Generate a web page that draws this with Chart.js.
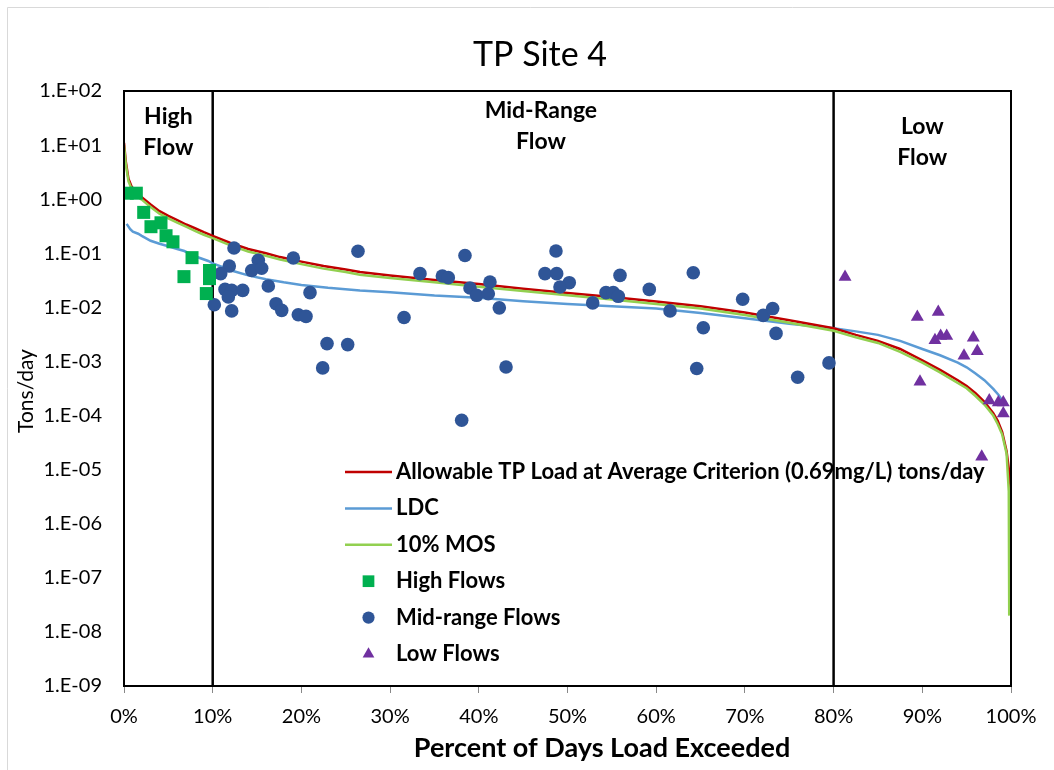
<!DOCTYPE html>
<html><head><meta charset="utf-8">
<script src="https://cdn.jsdelivr.net/npm/chart.js@4.4.1/dist/chart.umd.min.js"></script>
<style>html,body{margin:0;padding:0;background:#fff;}</style>
</head><body>
<canvas id="c" width="1054" height="770"></canvas>
<script>
// ---- data ----
const chartTitle = 'TP Site 4';
const xAxisTitle = 'Percent of Days Load Exceeded';
const yAxisTitle = 'Tons/day';
const yTickValues = [1e2,1e1,1e0,1e-1,1e-2,1e-3,1e-4,1e-5,1e-6,1e-7,1e-8,1e-9];
const yTickLabels = ['1.E+02','1.E+01','1.E+00','1.E-01','1.E-02','1.E-03','1.E-04','1.E-05','1.E-06','1.E-07','1.E-08','1.E-09'];
const xTickValues = [0,10,20,30,40,50,60,70,80,90,100];
const xTickLabels = ['0%','10%','20%','30%','40%','50%','60%','70%','80%','90%','100%'];

const allowX = [0,0.2,0.5,1,1.5,2,3,4,5,6,7,8,9,10,12,14,16,17.6,20,22.5,25,26.6,30,35,40,45,50,55,60,65,70,75,80,82.5,85,87.5,90,92,94,95,96,97,98,98.5,99,99.5,99.8,100];
const allowY = [11,5.0,2.4,1.5,1.25,1.09,0.8,0.6,0.49,0.41,0.34,0.29,0.245,0.21,0.155,0.12,0.1,0.085,0.07,0.058,0.05,0.045,0.039,0.032,0.027,0.022,0.0185,0.0155,0.0128,0.0105,0.008,0.0058,0.0041,0.0031,0.0024,0.0017,0.00105,0.0007,0.00045,0.00035,0.00026,0.00018,0.00011,0.00008,0.00005,0.000022,0.000009,0.000004];

const mosX = [0,0.2,0.5,1,1.5,2,3,4,5,6,7,8,9,10,12,14,16,17.6,20,22.5,25,26.6,30,35,40,45,50,55,60,65,70,75,80,82.5,85,87.5,90,92,94,95,96,97,98,98.5,99,99.5,99.75,99.8];
const mosY = [9.9,4.5,2.16,1.35,1.12,0.98,0.72,0.54,0.44,0.37,0.31,0.26,0.22,0.19,0.14,0.108,0.09,0.077,0.063,0.052,0.045,0.04,0.035,0.029,0.024,0.02,0.0167,0.014,0.0115,0.0095,0.0072,0.0052,0.0037,0.0028,0.0022,0.0015,0.00095,0.00063,0.0004,0.00032,0.00023,0.00016,0.0001,0.00007,0.000045,0.00002,0.000004,0.00000002];

const ldcX = [0.3,0.7,1,1.6,2,3,4,5,6,6.8,8,9.5,10,12.3,14,16,18,20,23,26.6,30,35,40,45,50,55,60,65,70,75,80,82.5,85,87.5,90,92,94,95,96,97,98,98.6,99.1];
const ldcY = [0.35,0.28,0.25,0.23,0.21,0.17,0.15,0.135,0.12,0.11,0.088,0.072,0.065,0.047,0.039,0.033,0.029,0.026,0.023,0.0205,0.019,0.0165,0.015,0.013,0.0115,0.0105,0.0095,0.0079,0.0063,0.005,0.0041,0.0036,0.0031,0.0024,0.0017,0.0013,0.00095,0.00078,0.0006,0.00045,0.00031,0.00024,0.00018];

const highX = [0.37,1.39,2.22,3.04,4.17,4.74,5.52,7.67,6.76,9.64,9.64,9.28];
const highY = [1.29,1.29,0.57,0.31,0.366,0.211,0.163,0.083,0.037,0.048,0.034,0.018];

const midX = [12.40,11.87,10.90,15.14,14.40,15.52,19.09,26.38,11.39,12.14,11.76,13.38,10.18,12.14,16.27,17.14,17.78,20.97,19.65,20.52,22.89,25.22,22.40,38.44,48.70,33.37,35.89,36.56,41.26,39.01,39.76,41.07,47.46,48.78,50.20,49.15,42.31,31.57,43.07,38.07,55.92,54.34,55.16,55.73,52.84,59.22,64.18,61.56,65.31,69.75,72.07,73.13,73.51,64.57,75.95,79.48];
const midY = [0.125,0.058,0.042,0.074,0.048,0.053,0.082,0.109,0.0215,0.0206,0.0156,0.0206,0.0112,0.0086,0.0248,0.0117,0.0088,0.0187,0.0073,0.0068,0.00214,0.00205,0.00076,0.091,0.110,0.042,0.038,0.0354,0.0294,0.0228,0.0167,0.0179,0.042,0.042,0.0286,0.0238,0.0098,0.0065,0.00079,0.000082,0.039,0.0187,0.0187,0.016,0.0121,0.0215,0.0437,0.0086,0.0042,0.0141,0.0071,0.0095,0.0033,0.00074,0.00051,0.00094];

const lowX = [81.29,89.44,91.80,91.43,92.07,92.75,95.75,94.70,96.20,89.74,97.55,98.57,99.13,99.13,96.70];
const lowY = [0.0364,0.00665,0.0082,0.00246,0.00297,0.00297,0.00273,0.00127,0.00154,0.00042,0.00019,0.000174,0.000174,0.000109,0.0000173];

const boundaryX = [10, 80];
const regionLabels = [
  {x: 5, lines: ['High','Flow'], dy: 0},
  {x: 47, lines: ['Mid-Range','Flow'], dy: -6},
  {x: 90, lines: ['Low','Flow'], dy: 10}
];

const FONT = "Lato, 'Open Sans', sans-serif";
const pts = (xs, ys) => xs.map((x,i) => ({x, y: ys[i]}));

const datasets = [
  {label:'Allowable TP Load at Average Criterion (0.69mg/L) tons/day', type:'line', data: pts(allowX, allowY), borderColor:'#C00000', borderWidth:2.5, pointRadius:0, fill:false, order:3},
  {label:'LDC', type:'line', data: pts(ldcX, ldcY), borderColor:'#5B9BD5', borderWidth:2.5, pointRadius:0, fill:false, order:4},
  {label:'10% MOS', type:'line', data: pts(mosX, mosY), borderColor:'#92D050', borderWidth:2.5, pointRadius:0, fill:false, order:2},
  {label:'High Flows', type:'scatter', data: pts(highX, highY), pointStyle:'rect', pointRadius:9.2, backgroundColor:'#00B050', borderColor:'#00B050', borderWidth:0, order:1},
  {label:'Mid-range Flows', type:'scatter', data: pts(midX, midY), pointStyle:'circle', pointRadius:6.8, backgroundColor:'#2F5597', borderColor:'#2F5597', borderWidth:0, order:1},
  {label:'Low Flows', type:'scatter', data: pts(lowX, lowY), pointStyle:'triangle', pointRadius:7.5, backgroundColor:'#7030A0', borderColor:'#7030A0', borderWidth:0, order:1}
];
boundaryX.forEach(bx => datasets.push({label:'_boundary', type:'line', data:[{x:bx,y:1e-9},{x:bx,y:1e2}], borderColor:'#000', borderWidth:2.5, pointRadius:0, order:5}));

const extras = {
  id:'extras',
  beforeDraw(chart){
    const ctx = chart.ctx;
    ctx.save();
    ctx.fillStyle = '#fff';
    ctx.fillRect(0,0,chart.width,chart.height);
    ctx.strokeStyle = '#D9D9D9'; ctx.lineWidth = 1;
    ctx.beginPath(); ctx.moveTo(7.5,770); ctx.lineTo(7.5,7.5); ctx.lineTo(1054,7.5); ctx.stroke();
    ctx.restore();
  },
  afterDraw(chart){
    const ctx = chart.ctx, a = chart.chartArea, xs = chart.scales.x;
    ctx.save();
    // title
    ctx.fillStyle = '#000'; ctx.textAlign = 'center'; ctx.textBaseline = 'middle';
    ctx.font = "34px " + FONT;
    ctx.fillText(chartTitle, 540, 55);
    // x axis title
    ctx.font = "bold 27px " + FONT;
    ctx.fillText(xAxisTitle, 602, 748);
    // y axis title
    ctx.save();
    ctx.translate(26, 391); ctx.rotate(-Math.PI/2);
    ctx.font = "21px " + FONT;
    ctx.fillText(yAxisTitle, 0, 0);
    ctx.restore();
    // plot border
    ctx.strokeStyle = '#000'; ctx.lineWidth = 2;
    ctx.strokeRect(a.left, a.top, a.right - a.left, a.bottom - a.top);
    // region labels
    ctx.font = "bold 23px " + FONT;
    regionLabels.forEach(r => {
      const px = xs.getPixelForValue(r.x);
      r.lines.forEach((t,i) => ctx.fillText(t, px, a.top + 26 + r.dy + i*31));
    });
    // legend
    const items = chart.data.datasets.filter(d => d.label !== '_boundary');
    const lx0 = 345, lx1 = 392, tx = 396, ty0 = 472, step = 36.4;
    ctx.font = "bold 22px " + FONT; ctx.textAlign = 'left';
    items.forEach((d,i) => {
      const y = ty0 + i*step;
      if (d.type === 'line') {
        ctx.strokeStyle = d.borderColor; ctx.lineWidth = d.borderWidth;
        ctx.beginPath(); ctx.moveTo(lx0, y); ctx.lineTo(lx1, y); ctx.stroke();
      } else {
        ctx.fillStyle = d.backgroundColor;
        Chart.helpers.drawPoint(ctx, {pointStyle: d.pointStyle, radius: d.pointRadius*0.9, borderWidth:0}, (lx0+lx1)/2, y);
      }
      ctx.fillStyle = '#000';
      ctx.fillText(d.label, tx, y);
    });
    ctx.restore();
  }
};

new Chart(document.getElementById('c'), {
  data: { datasets },
  options: {
    responsive:false, animation:false, devicePixelRatio:1,
    layout: { padding: { left: 8, right: 43, top: 91, bottom: 6 } },
    plugins: {
      legend: { display:false },
      tooltip: { enabled:false },
      title: { display:false }
    },
    scales: {
      x: {
        type:'linear', min:0, max:100,
        afterBuildTicks: s => { s.ticks = xTickValues.map(v => ({value:v})); },
        afterFit: s => { s.height = 78; },
        ticks: { callback: (v) => xTickLabels[xTickValues.indexOf(v)], color:'#000', font:{family:FONT, size:20}, padding:12, maxRotation:0, autoSkip:false },
        grid: { drawOnChartArea:false, drawTicks:true, tickLength:7, color:'#888', lineWidth:1 },
        border: { color:'#000', width:2 },
        title: { display:false }
      },
      y: {
        type:'logarithmic', min:1e-9, max:1e2,
        afterBuildTicks: s => { s.ticks = yTickValues.map(v => ({value:v})); },
        afterFit: s => { s.width = 116; },
        ticks: { callback: (v) => { const i = yTickValues.findIndex(t => Math.abs(Math.log10(t) - Math.log10(v)) < 1e-6); return i >= 0 ? yTickLabels[i] : ''; }, color:'#000', font:{family:FONT, size:20}, padding:22, autoSkip:false },
        grid: { drawOnChartArea:false, drawTicks:false },
        border: { color:'#000', width:2 },
        title: { display:false }
      }
    }
  },
  plugins: [extras]
});
</script>
</body></html>
